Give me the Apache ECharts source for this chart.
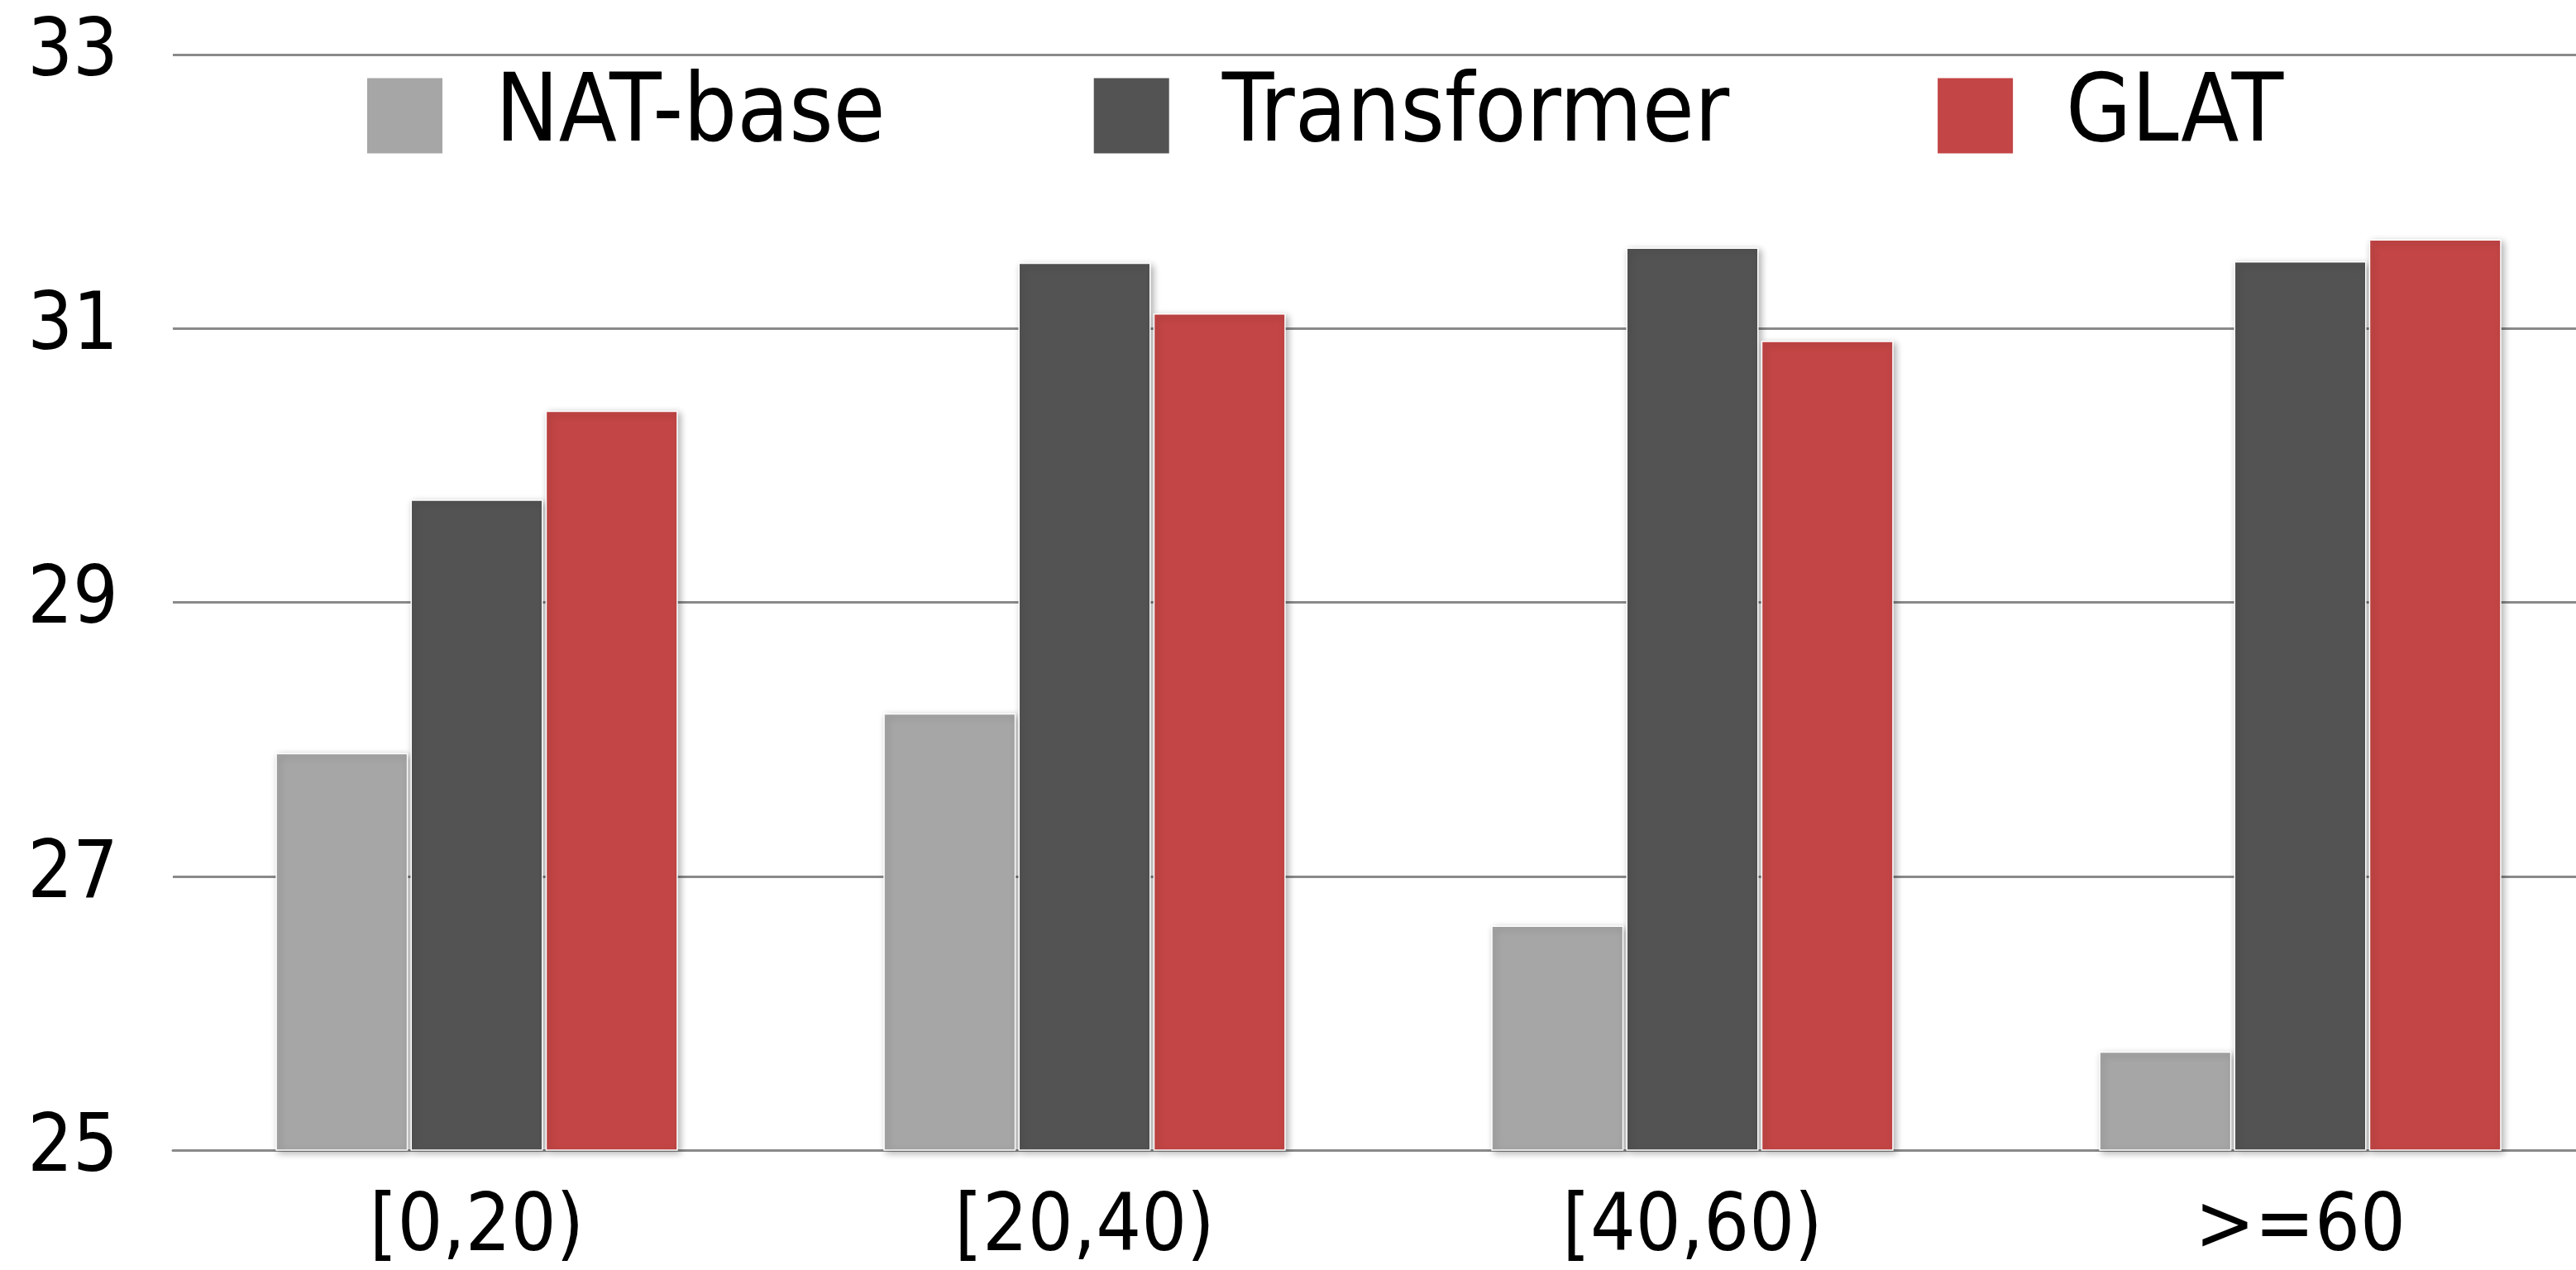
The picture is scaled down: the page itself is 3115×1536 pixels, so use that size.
<!DOCTYPE html>
<html>
<head>
<meta charset="utf-8">
<script src="https://cdn.jsdelivr.net/npm/echarts@6/dist/echarts.min.js"></script>
<style>
  html, body { margin: 0; padding: 0; background: #fff; overflow: hidden; }
  #chart { width: 3115px; height: 1536px; }
</style>
</head>
<body>
<div id="chart"></div>
<script>
var categories = ['[0,20)', '[20,40)', '[40,60)', '>=60'];
var natBase = [27.90, 28.19, 26.64, 25.72];
var transformer = [29.75, 31.48, 31.59, 31.49];
var glat = [30.40, 31.11, 30.91, 31.65];
var seriesNames = ['NAT-base', 'Transformer', 'GLAT'];
var colors = ['#A6A6A6', '#535353', '#C34545'];

var font = "'DejaVu Sans Condensed', 'Liberation Sans Narrow', sans-serif";

var chart = echarts.init(document.getElementById('chart'));

var makeBar = function (name, data, color) {
    return {
        name: name,
        type: 'bar',
        data: data,
        barWidth: 160,
        barGap: '2%',
        itemStyle: {
            color: color,
            borderColor: '#fff',
            borderWidth: 1.5,
            shadowColor: 'rgba(0,0,0,0.3)',
            shadowBlur: 8,
            shadowOffsetX: 3,
            shadowOffsetY: 3
        }
    };
};

chart.setOption({
    animation: false,
    backgroundColor: '#fff',
    color: colors,
    legend: {
        data: seriesNames,
        left: 437,
        top: 78,
        itemWidth: 93,
        itemHeight: 93,
        itemGap: 250,
        icon: 'rect',
        textStyle: {
            fontFamily: font,
            fontSize: 114,
            color: '#000',
            padding: [0, 0, 0, 58]
        }
    },
    // plot area runs a little past the right edge, as in the original
    grid: {
        left: 209,
        width: 2940,
        top: 66,
        bottom: 145,
        containLabel: false,
        outerBoundsMode: 'none'
    },
    xAxis: {
        type: 'category',
        data: categories,
        axisLine: { lineStyle: { color: '#8a8a8a', width: 3 } },
        axisTick: { show: false },
        axisLabel: {
            fontFamily: font,
            fontSize: 96,
            color: '#000',
            margin: 48
        }
    },
    yAxis: {
        type: 'value',
        min: 25,
        max: 33,
        interval: 2,
        axisLine: { show: false },
        axisTick: { show: false },
        splitLine: { lineStyle: { color: '#8a8a8a', width: 3 } },
        axisLabel: {
            fontFamily: font,
            fontSize: 96,
            color: '#000',
            margin: 66
        }
    },
    series: [
        makeBar(seriesNames[0], natBase, colors[0]),
        makeBar(seriesNames[1], transformer, colors[1]),
        makeBar(seriesNames[2], glat, colors[2])
    ]
});
</script>
</body>
</html>
